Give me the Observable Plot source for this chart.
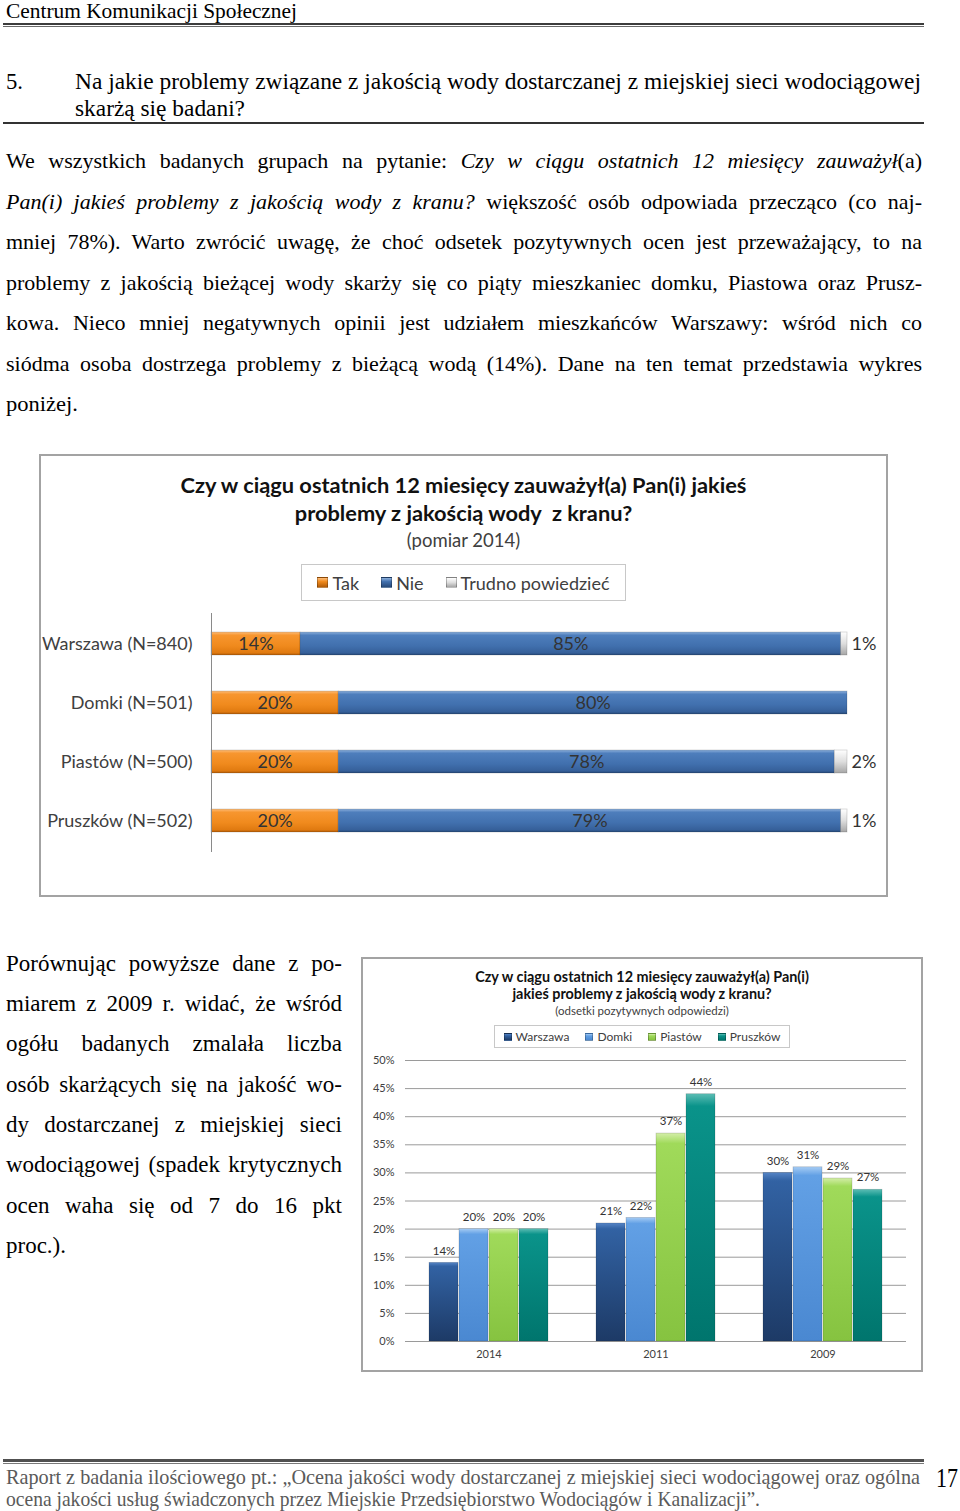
<!DOCTYPE html>
<html lang="pl">
<head>
<meta charset="utf-8">
<script src="https://cdn.jsdelivr.net/npm/d3@7"></script>
<script src="https://cdn.jsdelivr.net/npm/@observablehq/plot@0.6"></script>
<style>
html,body{margin:0;padding:0;background:#fff;}
#page{position:relative;width:960px;height:1511px;overflow:hidden;font-family:"Liberation Serif","Times New Roman",serif;color:#000;}
.ln{position:absolute;white-space:nowrap;display:inline-block;transform-origin:0 50%;}
.rule{position:absolute;}
.box{position:absolute;box-sizing:border-box;border:2px solid #a3a3a3;background:#fff;}
.ctitle{position:absolute;left:0;right:0;text-align:center;font-family:Lato,"Open Sans",sans-serif;}
.legend{position:absolute;box-sizing:border-box;border:1px solid #c8c8c8;display:flex;align-items:center;justify-content:center;font-family:Lato,"Open Sans",sans-serif;color:#404040;}
.sw{display:inline-block;border:1px solid rgba(0,0,0,0.25);box-sizing:border-box;}
.plotwrap{position:absolute;}
</style>
</head>
<body>
<svg width="0" height="0" style="position:absolute">
  <defs>
    <linearGradient id="gO" x1="0" y1="0" x2="0" y2="1">
      <stop offset="0" stop-color="#fdbd7a"/><stop offset="0.14" stop-color="#f7962f"/>
      <stop offset="0.6" stop-color="#f08a1d"/><stop offset="0.9" stop-color="#e07a10"/><stop offset="1" stop-color="#b35c08"/>
    </linearGradient>
    <linearGradient id="gB" x1="0" y1="0" x2="0" y2="1">
      <stop offset="0" stop-color="#8db0dc"/><stop offset="0.14" stop-color="#4e7ebc"/>
      <stop offset="0.6" stop-color="#4170ae"/><stop offset="0.9" stop-color="#36609a"/><stop offset="1" stop-color="#274a7a"/>
    </linearGradient>
    <linearGradient id="gG" x1="0" y1="0" x2="0" y2="1">
      <stop offset="0" stop-color="#ffffff"/><stop offset="0.5" stop-color="#dedede"/><stop offset="1" stop-color="#a6a6a6"/>
    </linearGradient>
    <linearGradient id="c1" x1="0" y1="0" x2="0" y2="1">
      <stop offset="0" stop-color="#5685c6"/><stop offset="0.05" stop-color="#3262a3"/><stop offset="1" stop-color="#1d3a66"/>
    </linearGradient>
    <linearGradient id="c2" x1="0" y1="0" x2="0" y2="1">
      <stop offset="0" stop-color="#a6ccf4"/><stop offset="0.05" stop-color="#62a0e5"/><stop offset="1" stop-color="#4a88d1"/>
    </linearGradient>
    <linearGradient id="c3" x1="0" y1="0" x2="0" y2="1">
      <stop offset="0" stop-color="#d4eea8"/><stop offset="0.05" stop-color="#a0da5a"/><stop offset="1" stop-color="#86c340"/>
    </linearGradient>
    <linearGradient id="c4" x1="0" y1="0" x2="0" y2="1">
      <stop offset="0" stop-color="#5cbdb4"/><stop offset="0.05" stop-color="#0a938a"/><stop offset="1" stop-color="#00756d"/>
    </linearGradient>
  </defs>
</svg>
<div id="page">
  <!-- header -->
  <span class="ln" data-w="291" style="left:6px;top:0px;font-size:21px;line-height:23px;">Centrum Komunikacji Społecznej</span>
  <div class="rule" style="left:3px;top:23px;width:921px;height:2px;background:#3c3c3c;"></div>
  <div class="rule" style="left:3px;top:26px;width:921px;height:1px;background:#6a6a6a;"></div>

  <span class="ln" data-w="17" style="left:6px;top:68px;font-size:24px;line-height:26px;">5.</span>
  <span class="ln" data-w="846" style="left:75px;top:68px;font-size:24px;line-height:26px;">Na jakie problemy związane z jakością wody dostarczanej z miejskiej sieci wodociągowej</span>
  <span class="ln" data-w="170" style="left:75px;top:95px;font-size:24px;line-height:26px;">skarżą się badani?</span>
  <div class="rule" style="left:3px;top:122px;width:921px;height:1.5px;background:#333;"></div>

  <!-- paragraph 1 -->
  <span class="ln" data-w="916" data-j="1" style="left:6px;top:149px;font-size:22px;line-height:24px;">We wszystkich badanych grupach na pytanie: <i>Czy w ciągu ostatnich 12 miesięcy zauważył</i>(a)</span>
  <span class="ln" data-w="916" data-j="1" style="left:6px;top:190px;font-size:22px;line-height:24px;"><i>Pan(i) jakieś problemy z jakością wody z kranu?</i> większość osób odpowiada przecząco (co naj-</span>
  <span class="ln" data-w="916" data-j="1" style="left:6px;top:230px;font-size:22px;line-height:24px;">mniej 78%). Warto zwrócić uwagę, że choć odsetek pozytywnych ocen jest przeważający, to  na</span>
  <span class="ln" data-w="916" data-j="1" style="left:6px;top:271px;font-size:22px;line-height:24px;">problemy z jakością bieżącej wody skarży się co piąty mieszkaniec domku, Piastowa oraz Prusz-</span>
  <span class="ln" data-w="916" data-j="1" style="left:6px;top:311px;font-size:22px;line-height:24px;">kowa. Nieco mniej negatywnych opinii jest udziałem mieszkańców Warszawy: wśród nich co</span>
  <span class="ln" data-w="916" data-j="1" style="left:6px;top:352px;font-size:22px;line-height:24px;">siódma osoba dostrzega problemy z bieżącą wodą (14%). Dane na ten temat przedstawia wykres</span>
  <span class="ln" data-w="72" style="left:6px;top:392px;font-size:22px;line-height:24px;">poniżej.</span>

  <!-- chart 1 -->
  <div class="box" style="left:39px;top:454px;width:849px;height:443px;">
    <div class="ctitle" style="top:15px;font-size:21.8px;line-height:28px;font-weight:700;color:#111;">Czy w ciągu ostatnich 12 miesięcy zauważył(a) Pan(i) jakieś<br>problemy z jakością wody&nbsp; z kranu?</div>
    <div class="ctitle" style="top:73px;font-size:18.5px;line-height:22px;color:#404040;">(pomiar 2014)</div>
  </div>
  <div class="legend" id="leg1" style="left:301px;top:564px;width:325px;height:37px;font-size:18px;"></div>
  <div class="plotwrap" id="chart1" style="left:39px;top:605px;"></div>

  <!-- paragraph 2 -->
  <span class="ln" data-w="336" data-j="1" style="left:6px;top:951px;font-size:23px;line-height:25px;">Porównując powyższe dane z po-</span>
  <span class="ln" data-w="336" data-j="1" style="left:6px;top:991px;font-size:23px;line-height:25px;">miarem z 2009 r. widać, że wśród</span>
  <span class="ln" data-w="336" data-j="1" style="left:6px;top:1031px;font-size:23px;line-height:25px;">ogółu badanych zmalała liczba</span>
  <span class="ln" data-w="336" data-j="1" style="left:6px;top:1072px;font-size:23px;line-height:25px;">osób skarżących się na jakość wo-</span>
  <span class="ln" data-w="336" data-j="1" style="left:6px;top:1112px;font-size:23px;line-height:25px;">dy dostarczanej z miejskiej sieci</span>
  <span class="ln" data-w="336" data-j="1" style="left:6px;top:1152px;font-size:23px;line-height:25px;">wodociągowej (spadek krytycznych</span>
  <span class="ln" data-w="336" data-j="1" style="left:6px;top:1193px;font-size:23px;line-height:25px;">ocen waha się od 7 do 16 pkt</span>
  <span class="ln" data-w="60" style="left:6px;top:1233px;font-size:23px;line-height:25px;">proc.).</span>

  <!-- chart 2 -->
  <div class="box" style="left:361px;top:957px;width:562px;height:415px;">
    <div class="ctitle" style="top:9px;font-size:14.4px;line-height:17px;font-weight:700;color:#111;">Czy w ciągu ostatnich 12 miesięcy zauważył(a) Pan(i)<br>jakieś problemy z jakością wody z kranu?</div>
    <div class="ctitle" style="top:45px;font-size:11.5px;line-height:14px;color:#404040;">(odsetki pozytywnych odpowiedzi)</div>
  </div>
  <div class="legend" id="leg2" style="left:494px;top:1025px;width:296px;height:23px;font-size:12px;"></div>
  <div class="plotwrap" id="chart2" style="left:362px;top:1050px;"></div>

  <!-- footer -->
  <div class="rule" style="left:3px;top:1459px;width:921px;height:3px;background:#505050;"></div>
  <div class="rule" style="left:3px;top:1463px;width:921px;height:1px;background:#7a7a7a;"></div>
  <span class="ln" data-w="914" style="left:6px;top:1466px;font-size:21px;line-height:22px;color:#5a5a5a;">Raport z badania ilościowego pt.: „Ocena jakości wody dostarczanej z miejskiej sieci wodociągowej oraz ogólna</span>
  <span class="ln" data-w="754" style="left:6px;top:1488px;font-size:21px;line-height:22px;color:#5a5a5a;">ocena jakości usług świadczonych przez Miejskie Przedsiębiorstwo Wodociągów i Kanalizacji”.</span>
  <span class="ln" data-w="22" style="left:936px;top:1464px;font-size:28px;line-height:28px;">17</span>
</div>

<script>
// ---------- data: chart 1 (pomiar 2014) ----------
const cities1 = ["Warszawa (N=840)", "Domki (N=501)", "Piastów (N=500)", "Pruszków (N=502)"];
const answers = ["Tak", "Nie", "Trudno powiedzieć"];
const tak = [14, 20, 20, 20];
const nie = [85, 80, 78, 79];
const trudno = [1, 0, 2, 1];
const answerFills = ["url(#gO)", "url(#gB)", "url(#gG)"];

// ---------- data: chart 2 (odsetki pozytywnych odpowiedzi) ----------
const years = ["2014", "2011", "2009"];
const cities2 = ["Warszawa", "Domki", "Piastów", "Pruszków"];
const values2014 = [14, 20, 20, 20];
const values2011 = [21, 22, 37, 44];
const values2009 = [30, 31, 29, 27];
const yTicks2 = [0, 5, 10, 15, 20, 25, 30, 35, 40, 45, 50];
const cityFills = ["url(#c1)", "url(#c2)", "url(#c3)", "url(#c4)"];
const legendSwatches1 = ["linear-gradient(#fdbd7a,#f08a1d 40%,#b35c08)", "linear-gradient(#8db0dc,#4170ae 40%,#274a7a)", "linear-gradient(#fff,#dedede 50%,#a6a6a6)"];
const legendSwatches2 = ["linear-gradient(#5685c6,#3262a3 30%,#1d3a66)", "linear-gradient(#a6ccf4,#62a0e5 30%,#4a88d1)", "linear-gradient(#d4eea8,#a0da5a 30%,#86c340)", "linear-gradient(#5cbdb4,#0a938a 30%,#00756d)"];

// ---------- text fitting ----------
document.querySelectorAll("#page .ln").forEach(el => {
  const target = +el.dataset.w;
  const w = el.getBoundingClientRect().width;
  if (el.dataset.j) {
    let s = +el.dataset.j;
    const n = (el.textContent.trim().match(/\s+/g) || []).length;
    const ws = (target / s - w) / n;
    if (ws < 0) s = target / w; else el.style.wordSpacing = ws + "px";
    el.style.transform = `scaleX(${s})`;
  } else {
    el.style.transform = `scaleX(${target / w})`;
  }
});

// ---------- legends ----------
function legend(id, labels, swatches, size, gap, sqGap) {
  const box = document.getElementById(id);
  labels.forEach((l, i) => {
    const item = document.createElement("span");
    item.style.cssText = `display:inline-flex;align-items:center;margin:0 ${gap}px;`;
    const sw = document.createElement("span");
    sw.className = "sw";
    sw.style.cssText += `width:${size}px;height:${size}px;background:${swatches[i]};margin-right:${sqGap}px;`;
    item.appendChild(sw);
    item.appendChild(document.createTextNode(l));
    box.appendChild(item);
  });
}
legend("leg1", answers, legendSwatches1, 11, 11, 4);
legend("leg2", cities2, legendSwatches2, 8, 8, 4);

// ---------- chart 1 ----------
const data1 = cities1.flatMap((c, i) => [
  {city: c, answer: answers[0], value: tak[i]},
  {city: c, answer: answers[1], value: nie[i]},
  {city: c, answer: answers[2], value: trudno[i]}
]);

const chart1 = Plot.plot({
  width: 848, height: 260,
  marginLeft: 172, marginRight: 40, marginTop: 8, marginBottom: 13,
  style: {fontFamily: "Lato, 'Open Sans', sans-serif", fontSize: "18px", color: "#404040", background: "transparent"},
  x: {domain: [0, 100], axis: null},
  y: {domain: cities1, paddingInner: 0.61, paddingOuter: 0.3, tickSize: 0, tickPadding: 19, label: null},
  color: {domain: answers, range: answerFills},
  marks: [
    Plot.barX(data1, {y: "city", x: "value", z: "answer", fill: "answer", stroke: "rgba(0,0,0,0.18)", strokeWidth: 0.8}),
    Plot.ruleX([0], {stroke: "#8a8a8a", strokeWidth: 1}),
    Plot.text(data1, Plot.stackX({y: "city", x: "value", z: "answer",
      text: d => d.answer !== answers[2] ? d.value + "%" : "", fill: "#333", fontSize: 18})),
    Plot.text(data1, Plot.stackX2({y: "city", x: "value", z: "answer",
      text: d => (d.answer === answers[2] && d.value > 0) ? d.value + "%" : "", fill: "#333", fontSize: 18,
      textAnchor: "start", dx: 4}))
  ]
});
document.getElementById("chart1").appendChild(chart1);

// ---------- chart 2 ----------
const series2 = {"2014": values2014, "2011": values2011, "2009": values2009};
const data2 = years.flatMap(y => cities2.map((c, i) => ({year: y, city: c, value: series2[y][i]})));

const chart2 = Plot.plot({
  width: 558, height: 318,
  marginLeft: 42, marginRight: 13, marginTop: 10, marginBottom: 27,
  style: {fontFamily: "Lato, 'Open Sans', sans-serif", fontSize: "11px", color: "#404040", background: "transparent"},
  fx: {domain: years, padding: 0, label: null, axis: "bottom", tickSize: 0, tickPadding: 9},
  x: {domain: cities2, axis: null, paddingInner: 0.03, paddingOuter: 0.72},
  y: {domain: [0, 50], ticks: yTicks2, tickFormat: d => d + "%", tickSize: 0, tickPadding: 11, label: null},
  color: {domain: cities2, range: cityFills},
  marks: [
    Plot.gridY(yTicks2, {stroke: "#9a9a9a", strokeOpacity: 1, strokeWidth: 1}),
    Plot.barY(data2, {fx: "year", x: "city", y: "value", fill: "city", stroke: "rgba(0,0,0,0.2)", strokeWidth: 0.7}),
    Plot.text(data2, {fx: "year", x: "city", y: "value", text: d => d.value + "%", dy: -12, fill: "#333", fontSize: 11.5})
  ]
});
document.getElementById("chart2").appendChild(chart2);
</script>
</body>
</html>
